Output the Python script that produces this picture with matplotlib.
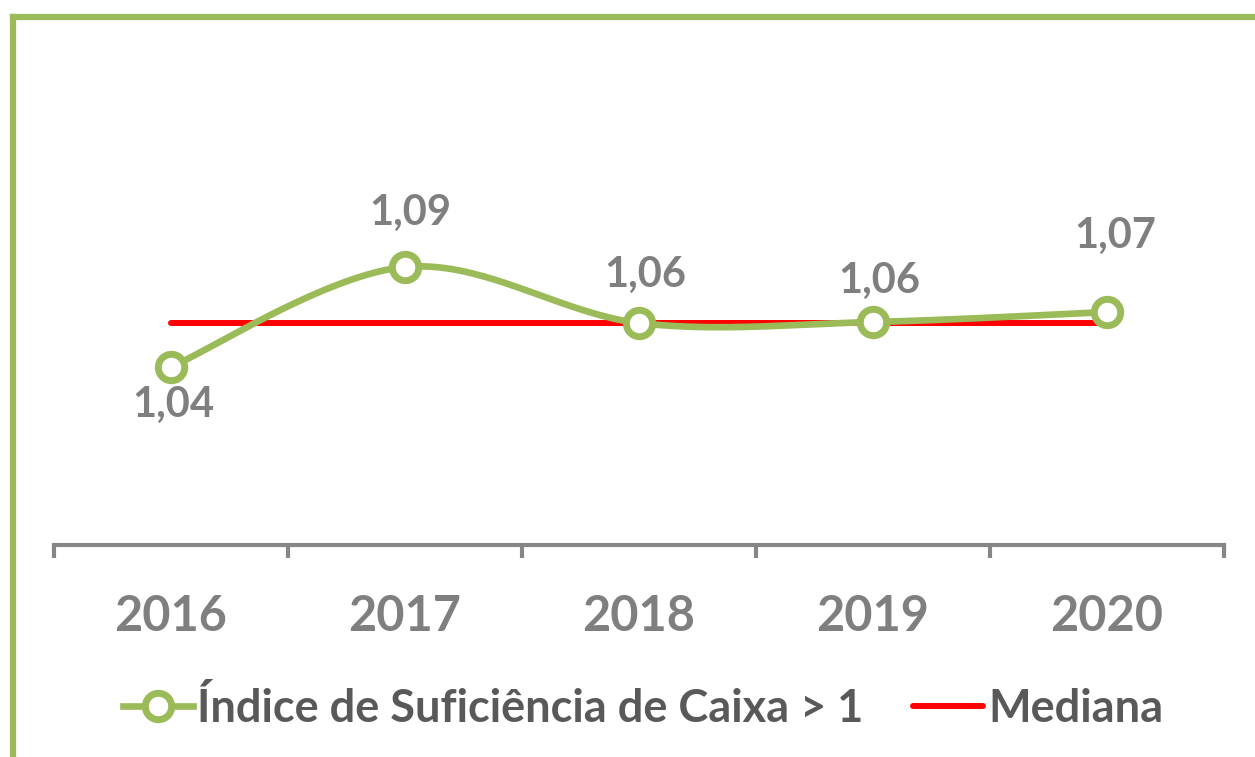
import numpy as np
import matplotlib
matplotlib.use("Agg")
import matplotlib.pyplot as plt
from matplotlib.lines import Line2D

# ---- data ----
years = ["2016", "2017", "2018", "2019", "2020"]
indice = [1.040, 1.090, 1.062, 1.0625, 1.0675]
mediana = [1.062, 1.062, 1.062, 1.062, 1.062]
series_label = "Índice de Suficiência de Caixa > 1"
median_label = "Mediana"

# ---- style ----
GREEN = "#9BBB59"
RED = "#FF0000"
GRAY = "#7F7F7F"
DARK = "#595959"
AXIS = "#868686"
FONT = "Lato"

W, H = 1255, 757
fig = plt.figure(figsize=(W / 100, H / 100), dpi=100)
fig.patch.set_facecolor("white")

# green frame (top and left)
fig.add_artist(Line2D([13 / W, 13 / W], [0, 1 - 17 / H], transform=fig.transFigure,
                      color=GREEN, lw=4.5, solid_capstyle="projecting"))
fig.add_artist(Line2D([13 / W, 1.0], [1 - 17 / H, 1 - 17 / H], transform=fig.transFigure,
                      color=GREEN, lw=4.5, solid_capstyle="projecting"))

ax_left, ax_right = 54 / W, 1224 / W
ax_bottom, ax_top = 1 - 545 / H, 1 - 40 / H
ax = fig.add_axes([ax_left, ax_bottom, ax_right - ax_left, ax_top - ax_bottom])
ax.set_facecolor("none")

x = np.arange(len(years))
ax.set_xlim(-0.5, len(years) - 0.5)
ax.set_ylim(0.951, 1.2035)


def smooth(xs, ys, n=40, t=1 / 6):
    """Excel-like smoothed line (Catmull-Rom style cubic Bezier)."""
    P = np.column_stack([xs, ys]).astype(float)
    out = [P[0]]
    for i in range(len(P) - 1):
        p0 = P[i - 1] if i > 0 else P[i]
        p1, p2 = P[i], P[i + 1]
        p3 = P[i + 2] if i + 2 < len(P) else P[i + 1]
        c1 = p1 + (p2 - p0) * t
        c2 = p2 - (p3 - p1) * t
        s = np.linspace(0, 1, n)[1:, None]
        seg = ((1 - s) ** 3) * p1 + 3 * ((1 - s) ** 2) * s * c1 + 3 * (1 - s) * s ** 2 * c2 + s ** 3 * p2
        out.extend(seg)
    out = np.array(out)
    return out[:, 0], out[:, 1]


sx, sy = smooth(x, indice)
ax.plot(x, mediana, color=RED, lw=4.3, solid_capstyle="round", zorder=2)
ax.plot(sx, sy, color=GREEN, lw=4.8, solid_capstyle="round", zorder=3)
ax.plot(x, indice, linestyle="none", marker="o", ms=19, mew=5,
        mfc="white", mec=GREEN, zorder=4)

# data labels (pixel offsets)
label_offsets = [(2, -38), (5, 54), (6, 48), (6, 41), (8, 76)]
for xi, yi, (dx, dy) in zip(x, indice, label_offsets):
    ax.annotate(f"{yi:.2f}".replace(".", ","), (xi, yi),
                xytext=(dx * 0.72, dy * 0.72), textcoords="offset points",
                ha="center", va="center", fontsize=30, fontweight="bold",
                color=GRAY, family=FONT, zorder=5)

# axes styling
for s in ["top", "right", "left"]:
    ax.spines[s].set_visible(False)
ax.spines["bottom"].set_color(AXIS)
ax.spines["bottom"].set_linewidth(3)
ax.set_yticks([])
ax.set_xticks(x)
ax.set_xticklabels(years, fontsize=35, fontweight="bold", color=GRAY, family=FONT)
ax.tick_params(axis="x", which="major", length=0, pad=35)
ax.set_xticks(np.arange(-0.5, len(years), 1.0), minor=True)
ax.tick_params(axis="x", which="minor", length=9, width=3, color=AXIS, direction="out")

# legend
handles = [
    Line2D([], [], color=GREEN, lw=4.8, marker="o", ms=19, mew=5, mfc="white", mec=GREEN),
    Line2D([], [], color=RED, lw=4.3, solid_capstyle="round"),
]
leg = fig.legend(handles, [series_label, median_label], loc="center",
                 bbox_to_anchor=(643 / W, 1 - 708 / H), ncol=2, frameon=False,
                 prop={"family": FONT, "weight": "bold", "size": 32.5},
                 handlelength=1.55, handletextpad=0.1, columnspacing=1.1,
                 borderaxespad=0, borderpad=0)
for t in leg.get_texts():
    t.set_color(DARK)

fig.savefig("out.png", dpi=100, facecolor="white")
